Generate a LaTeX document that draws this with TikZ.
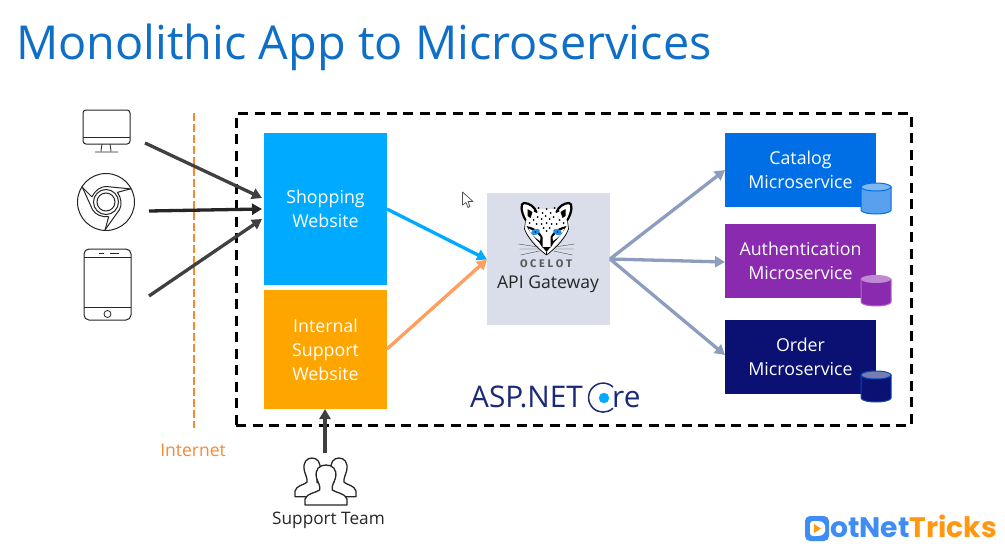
\documentclass[tikz,border=0pt]{standalone}
\usepackage{fontspec}
\setmainfont{Open Sans}
\newfontfamily\logofont{Poppins}
\newfontfamily\ocfont{Fira Sans}
\usetikzlibrary{arrows.meta}
\definecolor{titleblue}{HTML}{0F6FC6}
\definecolor{shopc}{HTML}{00AAFF}
\definecolor{intc}{HTML}{FFA500}
\definecolor{gwc}{HTML}{D9DEEA}
\definecolor{catc}{HTML}{006FE6}
\definecolor{authc}{HTML}{8A2BAF}
\definecolor{ordc}{HTML}{0A1172}
\definecolor{netor}{HTML}{F58A33}
\definecolor{darkar}{HTML}{404040}
\definecolor{slatear}{HTML}{8C9DBD}
\definecolor{peach}{HTML}{FF9E5E}
\definecolor{aspblue}{HTML}{1B2A78}
\definecolor{logob}{HTML}{3F8CF5}
\definecolor{logoo}{HTML}{FF9810}
\definecolor{eyeblue}{HTML}{1E90E8}
\tikzset{
  box/.style={draw=none,fill=#1,text=white,inner sep=0pt,outer sep=0pt,align=center,anchor=north west,font=\fontsize{17.8}{24}\selectfont},
  conn/.style={line width=3.3pt,-{Triangle[length=10pt,width=11pt]}},
  icon/.style={draw=black!85,line width=1pt,fill=white},
  cyl/.style={line width=1pt},
}
\newcommand{\cylinder}[6]{% x0 y0 x1 y1 body rim
  \draw[cyl,#6,fill=#5] (#1,#2+4) -- (#1,#4-4) arc[start angle=180,end angle=0,x radius={(#3-#1)/2},y radius=4] -- (#3,#2+4) -- cycle;
}
\newcommand{\person}[4]{% cx top xscale yscale
  \begin{scope}[shift={(#1,#2)},xscale=#3,yscale=#4]
    \draw[icon,line width=1.3pt,line join=round] (-6,24) .. controls (-5,20) and (-8,16) .. (-9,12) .. controls (-11,3) and (-6,-1) .. (0,-1) .. controls (6,-1) and (11,3) .. (9,12) .. controls (8,16) and (5,20) .. (6,24) .. controls (10,27) and (18,27) .. (20,33) -- (20,39) -- (-20,39) -- (-20,33) .. controls (-18,27) and (-10,27) .. (-6,24) -- cycle;
  \end{scope}}
\newcommand{\ocelothalf}{%
  % ear
  \fill[white] (-20,20) .. controls (-27,10) and (-27,1) .. (-23,1) .. controls (-17,1) and (-12,6) .. (-10,12) -- cycle;
  \draw[black,line width=2.2pt,line cap=round] (-21,19) .. controls (-26,10) and (-26,2) .. (-22.5,2) .. controls (-17,2) and (-12,6) .. (-10,11);
  \fill[black] (-19,8) -- (-14,11) -- (-16,17) -- (-19,15) -- cycle;
  % cheek edge
  \draw[black,line width=.7pt] (-21,19) -- (-22,28) .. controls (-19,36) and (-12,45) .. (0,54);
  % eye
  \fill[black] (-20,25) .. controls (-15,26) and (-8,28) .. (-4,36) -- (-4,47) -- (-7,42) .. controls (-11,38) and (-16,32) .. (-20,25) -- cycle;
  \fill[white] (-18,27.5) .. controls (-16,33) and (-11,37) .. (-6.5,40) -- (-6,36) .. controls (-10,32) and (-14,29) .. (-18,27.5) -- cycle;
  \fill[eyeblue,rotate around={22:(-11,31)}] (-11,31) ellipse[x radius=4.6,y radius=2.9];
  \fill[black] (-11,31) circle[radius=.9];
  % whiskers
  \draw[black!70,line width=.4pt] (-8,46) -- (-28,43) (-8,48) -- (-27,48) (-7,50) -- (-26,54);
}
\begin{document}
\begin{tikzpicture}[x=1pt,y=-1pt]
\useasboundingbox (0,0) rectangle (1005,549);
\fill[white] (0,0) rectangle (1005,549);
% title
\node[anchor=base west,inner sep=0pt,text=titleblue,font=\fontsize{46.8}{50}\selectfont] (title) at (16,59) {Monolithic App to Microservices};
% frame
\node[draw=black,dash pattern=on 10pt off 6.5pt,line width=3pt,minimum width=675pt,minimum height=312pt,anchor=north west,inner sep=0pt,outer sep=0pt] (frame) at (236,113) {};
% internet line
\coordinate (nettop) at (194,113);
\coordinate (netbot) at (194,428);
\draw[netor,line width=2.8pt,dash pattern=on 8pt off 3pt] (nettop) -- (netbot);
\node[text=netor,font=\fontsize{17.5}{20}\selectfont,inner sep=0pt] (internet) at (193,450) {Internet};
% boxes
\node[box=shopc,minimum width=123pt,minimum height=152pt] (shop) at (264,133) {Shopping\\Website};
\node[box=intc,minimum width=123pt,minimum height=119pt] (int) at (264,290) {Internal\\Support\\Website};
\node[box=gwc,minimum width=123pt,minimum height=132pt] (gw) at (487,193) {};
\node[box=catc,minimum width=151pt,minimum height=74pt] (cat) at (725,133) {Catalog\\Microservice};
\node[box=authc,minimum width=151pt,minimum height=74pt] (auth) at (725,224) {Authentication\\Microservice};
\node[box=ordc,minimum width=151pt,minimum height=74pt] (ord) at (725,320) {Order\\Microservice};
% gateway label
\node[text=black!85,font=\fontsize{17.6}{22}\selectfont,inner sep=0pt] (gwlabel) at (548,284) {API Gateway};
% ocelot
\begin{scope}[shift={(546.5,201)}]
  \fill[white] (-22,8) -- (22,8) -- (23,28) -- (0,55) -- (-23,28) -- cycle;
  \ocelothalf
  \begin{scope}[xscale=-1]\ocelothalf\end{scope}
  \foreach \px/\py in {-12,10,-8/7,-4/12,0/8,4/12,8/7,12/10,-9/16,-5/18,-1/15,3/18,7/16,-13/19,13/19,0/22,-5/23,5/23,-10/23,10/23,-3/27,3/27,0/30,-17/22,17/22,0/35,-17/14,17/14}
    {}
  \foreach \px/\py in {-12/10,-8/7,-4/12,0/8,4/12,8/7,12/10,-9/16,-5/18,-1/15,3/18,7/16,-13/19,13/19,0/22,-5/23,5/23,-10/23,10/23,-3/27,3/27,0/30,-17/22,17/22}
    \fill[black] (\px,\py) circle[radius=1];
  % nose
  \fill[black] (-4,46) -- (4,46) -- (0,51) -- cycle;
  \draw[black,line width=.8pt] (0,51) -- (0,54);
\end{scope}
\node[inner sep=0pt,text=black!65,font=\ocfont\bfseries\fontsize{11}{12}\selectfont] (ocelotname) at (546,264) {O C E L O T};
% cylinders
\cylinder{861}{183}{891}{214}{catc!65!white}{catc}
\draw[cyl,catc,fill=catc!50!white] (876,187) ellipse[x radius=15,y radius=4];
\cylinder{861}{275}{891}{306}{authc}{authc!70!white}
\fill[authc!55!white] (876,279) ellipse[x radius=15,y radius=4];
\cylinder{861}{371}{891}{402}{ordc}{catc!60!ordc}
\draw[cyl,catc!60!ordc,fill=ordc!55!white] (876,375) ellipse[x radius=15,y radius=4];
% ASP.NET Core
\node[anchor=base west,inner sep=0pt,text=aspblue,font=\fontsize{29.8}{32}\selectfont] (asp) at (470,407) {ASP.NET};
\draw[aspblue,line width=1.5pt] (613,387) arc[start angle=-47,end angle=-313,radius=14.5];
\fill[shopc] (604,398) circle[radius=5.2];
\node[anchor=base west,inner sep=0pt,text=aspblue,font=\fontsize{29.8}{32}\selectfont] (aspre) at (612,407) {re};
% icons
\coordinate (monfrom) at (145,143);
\coordinate (chrfrom) at (149,211);
\coordinate (phofrom) at (149,296);
\draw[icon,rounded corners=3pt] (83,110) rectangle (130,144);
\draw[icon,line width=.8pt] (83,137) -- (130,137);
\draw[icon,line width=.8pt] (102,144) -- (101,151) (110,144) -- (111,151) (95,152) -- (118,152);
% chrome
\draw[icon] (106,202) circle[radius=28.5];
\draw[icon] (106,202) circle[radius=12.5];
\draw[icon] (106,202) circle[radius=9];
\foreach \r in {0,-120,-240}{
  \begin{scope}[shift={(106,202)},rotate=\r]
    \draw[black!85,line width=1pt,line join=round] (25.5,-13) -- (0,-15.5) .. controls (-5.5,-15.5) and (-11,-11.5) .. (-14.1,-5.1) -- (-23.5,-14.5);
  \end{scope}
}
% phone
\draw[icon,rounded corners=5pt] (84,249) rectangle (131,320);
\draw[icon,line width=.8pt] (84,257) -- (131,257) (84,307) -- (131,307);
\draw[icon,line width=.8pt] (99,253) -- (104,253) (110,253) -- (119,253);
\draw[icon,line width=.8pt] (107.5,314) circle[radius=3.5];
% people
\coordinate (tmtop) at (325,453);
\person{312}{459}{0.85}{0.97}
\person{339}{459}{0.85}{0.97}
\person{326}{466}{1.05}{1}
\node[text=black!85,font=\fontsize{17.2}{20}\selectfont,inner sep=0pt] (team) at (328.5,520) {Support Team};
% connectors
\coordinate (shopa) at (262,198);
\coordinate (shopb) at (262,209);
\coordinate (shopc1) at (262,219);
\coordinate (shopout) at (387,209);
\coordinate (intout) at (387,349);
\coordinate (gwin) at (487,259.5);
\coordinate (gwout) at (610,259);
\coordinate (catin) at (725,170);
\coordinate (authin) at (725,262);
\coordinate (ordin) at (725,355);
\coordinate (intbot) at (325,409);
\draw[conn,darkar] (monfrom) -- (shopa);
\draw[conn,black!85] (chrfrom) -- (shopb);
\draw[conn,darkar] (phofrom) -- (shopc1);
\draw[conn,shopc] (shopout) -- (gwin);
\draw[conn,peach] (intout) -- (gwin);
\draw[conn,slatear] (gwout) -- (catin);
\draw[conn,slatear] (gwout) -- (authin);
\draw[conn,slatear] (gwout) -- (ordin);
\draw[conn,darkar] (tmtop) -- (intbot);
% cursor
\draw[black!70,fill=white,line width=.7pt,line join=round] (462.5,192) -- (462.5,205) -- (466,202.5) -- (468,207.5) -- (470,206.5) -- (468,201.5) -- (473,201.5) -- cycle;
% logo
\fill[logob,rounded corners=5pt] (805,516) rectangle (829,541);
\fill[white,rounded corners=3pt] (810,521) -- (819,521) .. controls (823,522) and (825,525) .. (825,528.5) .. controls (825,532) and (823,535) .. (819,536) -- (810,536) -- cycle;
\fill[logoo] (814,524) -- (821,528.5) -- (814,533) -- cycle;
\node[anchor=base west,inner sep=0pt,font=\logofont\bfseries\fontsize{28.2}{30}\selectfont] (logo) at (830,537) {\textcolor{logob}{otNet}\textcolor{logoo}{Tricks}};
\end{tikzpicture}
\end{document}
